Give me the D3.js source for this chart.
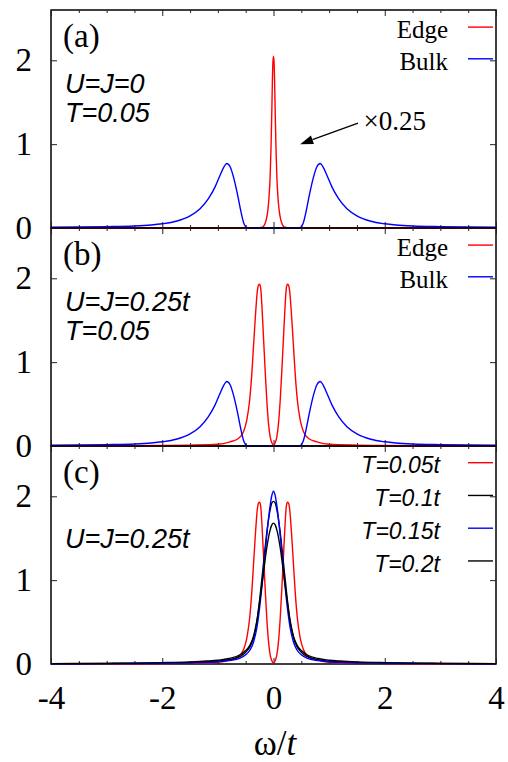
<!DOCTYPE html>
<html><head><meta charset="utf-8">
<script src="https://cdn.jsdelivr.net/npm/d3@7"></script>
<style>body{margin:0;background:#fff}svg{display:block}</style>
</head><body>
<svg id="c" width="508" height="762"></svg>
<script>
// ---- data ----
const xTicks = [-4, -2, 0, 2, 4];
const xMinorTicks = [-3.5,-3,-2.5,-1.5,-1,-0.5,0.5,1,1.5,2.5,3,3.5];
const yTicks = [0, 1, 2];
const panelLabels = ["(a)", "(b)", "(c)"];

const edgeA_x = [-4,-1,-0.3,-0.2,-0.16,-0.13,-0.1,-0.08,-0.06,-0.045,-0.03,-0.02,-0.01,0,0.01,0.02,0.03,0.045,0.06,0.08,0.1,0.13,0.16,0.2,0.3,1,4];
const edgeA_y = [0,0,0,0.01,0.04,0.1,0.22,0.37,0.62,0.95,1.40,1.75,1.98,2.05,1.98,1.75,1.40,0.95,0.62,0.37,0.22,0.1,0.04,0.01,0,0,0];

const bulk_x = [-4,-3.5,-3,-2.5,-2.2,-2,-1.75,-1.5,-1.32,-1.17,-1.05,-0.96,-0.89,-0.84,-0.78,-0.72,-0.65,-0.59,-0.53,-0.48,-0.45,0,0.45,0.48,0.53,0.59,0.65,0.72,0.78,0.84,0.89,0.96,1.05,1.17,1.32,1.5,1.75,2,2.2,2.5,3,3.5,4];
const bulk_y = [0.01,0.012,0.016,0.024,0.036,0.05,0.08,0.145,0.23,0.35,0.49,0.63,0.73,0.77,0.73,0.61,0.41,0.21,0.05,0.005,0,0,0,0.005,0.05,0.21,0.41,0.61,0.73,0.77,0.73,0.63,0.49,0.35,0.23,0.145,0.08,0.05,0.036,0.024,0.016,0.012,0.01];

const edgeB_x = [-4,-3,-2,-1.5,-1,-0.78,-0.63,-0.54,-0.48,-0.43,-0.39,-0.36,-0.33,-0.29,-0.27,-0.25,-0.23,-0.21,-0.18,-0.15,-0.12,-0.09,-0.06,-0.03,0,0.03,0.06,0.09,0.12,0.15,0.18,0.21,0.23,0.25,0.27,0.29,0.33,0.36,0.39,0.43,0.48,0.54,0.63,0.78,1,1.5,2,3,4];
const edgeB_y = [0.002,0.003,0.006,0.01,0.02,0.05,0.09,0.17,0.31,0.54,0.86,1.18,1.50,1.85,1.92,1.93,1.88,1.69,1.30,0.90,0.54,0.27,0.11,0.04,0.01,0.04,0.11,0.27,0.54,0.90,1.30,1.69,1.88,1.93,1.92,1.85,1.50,1.18,0.86,0.54,0.31,0.17,0.09,0.05,0.02,0.01,0.006,0.003,0.002];

const tc_x = [-4,-3,-2,-1.5,-1.2,-1,-0.8,-0.6,-0.5,-0.42,-0.36,-0.3,-0.24,-0.18,-0.12,-0.06,-0.03,0,0.03,0.06,0.12,0.18,0.24,0.3,0.36,0.42,0.5,0.6,0.8,1,1.2,1.5,2,3,4];
const t010_y = [0.004,0.006,0.012,0.018,0.025,0.032,0.05,0.09,0.14,0.21,0.31,0.50,0.82,1.20,1.57,1.84,1.92,1.94,1.92,1.84,1.57,1.20,0.82,0.50,0.31,0.21,0.14,0.09,0.05,0.032,0.025,0.018,0.012,0.006,0.004];
const t020_y = [0.005,0.008,0.016,0.025,0.035,0.045,0.065,0.11,0.16,0.23,0.33,0.51,0.78,1.09,1.39,1.60,1.66,1.68,1.66,1.60,1.39,1.09,0.78,0.51,0.33,0.23,0.16,0.11,0.065,0.045,0.035,0.025,0.016,0.008,0.005];
const t015_x = [-4,-3,-2,-1.5,-1.2,-1,-0.8,-0.6,-0.5,-0.42,-0.36,-0.3,-0.25,-0.2,-0.15,-0.1,-0.06,-0.03,0,0.03,0.06,0.1,0.15,0.2,0.25,0.3,0.36,0.42,0.5,0.6,0.8,1,1.2,1.5,2,3,4];
const t015_y = [0.003,0.005,0.009,0.014,0.02,0.026,0.04,0.07,0.11,0.17,0.26,0.43,0.67,0.98,1.33,1.67,1.89,2.01,2.06,2.01,1.89,1.67,1.33,0.98,0.67,0.43,0.26,0.17,0.11,0.07,0.04,0.026,0.02,0.014,0.009,0.005,0.003];

// ---- layout ----
const svg = d3.select("#c");
const X0 = 51, X1 = 496, PH = 218;
const tops = [10, 228, 446];
const x = d3.scaleLinear().domain([-4, 4]).range([X0, X1]);
const zip = (xs, ys) => xs.map((v, i) => [v, ys[i]]);
const blank = () => "";

const panels = [
  { series: [
      {name: "Edge", xs: edgeA_x, ys: edgeA_y, color: "#ff0000"},
      {name: "Bulk", xs: bulk_x, ys: bulk_y, color: "#0000ff"}],
    legendFont: "'Liberation Serif', serif", legendItalic: false,
    notes: ["U=J=0", "T=0.05"] },
  { series: [
      {name: "Edge", xs: edgeB_x, ys: edgeB_y, color: "#ff0000"},
      {name: "Bulk", xs: bulk_x, ys: bulk_y, color: "#0000ff"}],
    legendFont: "'Liberation Serif', serif", legendItalic: false,
    notes: ["U=J=0.25t", "T=0.05"] },
  { series: [
      {name: "T=0.05t", xs: edgeB_x, ys: edgeB_y, color: "#ff0000"},
      {name: "T=0.1t", xs: tc_x, ys: t010_y, color: "#000000"},
      {name: "T=0.15t", xs: t015_x, ys: t015_y, color: "#0000ff"},
      {name: "T=0.2t", xs: tc_x, ys: t020_y, color: "#000000"}],
    legendFont: "'Liberation Sans', Arial, sans-serif", legendItalic: true,
    notes: ["U=J=0.25t"] }
];

panels.forEach((p, pi) => {
  const top = tops[pi], bot = top + PH;
  const y = d3.scaleLinear().domain([0, 2.6]).range([bot, top]);
  const g = svg.append("g");
  const clipId = "clip" + pi;
  svg.append("clipPath").attr("id", clipId).append("rect")
    .attr("x", X0).attr("y", top).attr("width", X1 - X0).attr("height", PH + 1.5);

  // frame first (plots drawn over it)
  g.append("rect").attr("x", X0).attr("y", top).attr("width", X1 - X0).attr("height", PH)
    .attr("fill", "none").attr("stroke", "#000").attr("stroke-width", 1.5);

  // axes (inward ticks)
  const styleAx = sel => { sel.select(".domain").remove();
    sel.selectAll(".tick line").attr("stroke", "#222").attr("stroke-width", 1); };
  g.append("g").attr("transform", `translate(0,${bot})`)
    .call(d3.axisBottom(x).tickValues(xTicks).tickSize(-6).tickPadding(21.3)
      .tickFormat(pi === 2 ? (d => String(d)) : blank))
    .call(styleAx)
    .call(s => s.selectAll("text").attr("font-family", "'Liberation Serif', serif")
      .attr("font-size", 33).attr("fill", "#000"));
  g.append("g").attr("transform", `translate(0,${bot})`)
    .call(d3.axisBottom(x).tickValues(xMinorTicks).tickSize(-3).tickFormat(blank)).call(styleAx);
  g.append("g").attr("transform", `translate(0,${top})`)
    .call(d3.axisTop(x).tickValues(xTicks).tickSize(-6).tickFormat(blank)).call(styleAx);
  g.append("g").attr("transform", `translate(0,${top})`)
    .call(d3.axisTop(x).tickValues(xMinorTicks).tickSize(-3).tickFormat(blank)).call(styleAx);
  g.append("g").attr("transform", `translate(${X0},0)`)
    .call(d3.axisLeft(y).tickValues(yTicks).tickSize(-6).tickPadding(19).tickFormat(d => String(d)))
    .call(styleAx)
    .call(s => s.selectAll("text").attr("font-family", "'Liberation Serif', serif")
      .attr("font-size", 33).attr("fill", "#000"));
  g.append("g").attr("transform", `translate(${X1},0)`)
    .call(d3.axisRight(y).tickValues(yTicks).tickSize(-6).tickFormat(blank)).call(styleAx);

  // curves
  const line = d3.line().x(d => x(d[0])).y(d => y(d[1])).curve(d3.curveMonotoneX);
  const cg = g.append("g").attr("clip-path", `url(#${clipId})`);
  p.series.forEach(s => {
    cg.append("path").datum(zip(s.xs, s.ys))
      .attr("d", line).attr("fill", "none")
      .attr("stroke", s.color).attr("stroke-width", 1.4);
  });

  // panel label
  g.append("text").attr("x", 63).attr("y", top + 36.7)
    .attr("font-family", "'Liberation Serif', serif").attr("font-size", 33)
    .text(panelLabels[pi]);

  // notes
  const noteY = pi === 2 ? [top + 102] : [top + 82.5, top + 111.5];
  p.notes.forEach((t, i) => {
    g.append("text").attr("x", 65).attr("y", noteY[i])
      .attr("font-family", "'Liberation Sans', Arial, sans-serif")
      .attr("font-style", "italic").attr("font-size", 27).text(t);
  });

  // legend
  p.series.forEach((s, i) => {
    let tb, ly, tx, fs;
    if (pi === 2) { tb = top + 27.3 + i * 32.75; ly = tb - 10.6; tx = 440; fs = 23; }
    else { tb = top + 28.3 + i * 31.7; ly = tb - 11.2; tx = 448; fs = 25; }
    g.append("text").attr("x", tx).attr("y", tb).attr("text-anchor", "end")
      .attr("font-family", p.legendFont).attr("font-style", p.legendItalic ? "italic" : "normal")
      .attr("font-size", fs).text(s.name);
    g.append("line").attr("x1", 468).attr("x2", 493).attr("y1", ly).attr("y2", ly)
      .attr("stroke", s.color).attr("stroke-width", 1.4);
  });

  if (pi === 0) {
    // ×0.25 annotation with arrow
    const tail = [x(1.52), y(1.25)], tip = [x(0.48), y(1.0)];
    const ang = Math.atan2(tip[1] - tail[1], tip[0] - tail[0]);
    const hl = 13, hw = 4.5;
    const bx = tip[0] - hl * Math.cos(ang), by = tip[1] - hl * Math.sin(ang);
    g.append("line").attr("x1", tail[0]).attr("y1", tail[1]).attr("x2", bx).attr("y2", by)
      .attr("stroke", "#000").attr("stroke-width", 1.3);
    g.append("polygon").attr("points", [
      tip, [bx + hw * Math.sin(ang), by - hw * Math.cos(ang)],
      [bx - hw * Math.sin(ang), by + hw * Math.cos(ang)]].map(d => d.join(",")).join(" "))
      .attr("fill", "#000");
    g.append("text").attr("x", x(1.62)).attr("y", y(1.17))
      .attr("font-family", "'Liberation Serif', serif").attr("font-size", 27).text("×0.25");
  }
});

// x-axis title
const xt = svg.append("text").attr("x", 275).attr("y", 755).attr("text-anchor", "middle")
  .attr("font-family", "'Liberation Serif', serif").attr("font-size", 35);
xt.append("tspan").text("ω/");
xt.append("tspan").attr("font-style", "italic").text("t");
</script>
</body></html>
